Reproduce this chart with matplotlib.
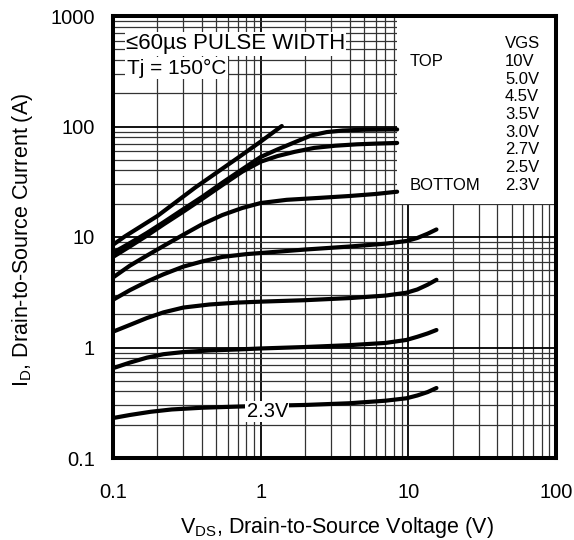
import matplotlib
matplotlib.use('Agg')
import matplotlib.pyplot as plt
from matplotlib.patches import Rectangle

plt.rcParams['font.family'] = ['Liberation Sans', 'DejaVu Sans']
plt.rcParams['mathtext.fontset'] = 'custom'
plt.rcParams['mathtext.rm'] = 'Liberation Sans'

# curves (VDS in V, ID in A)
vds_10 = [0.1, 0.12, 0.2, 0.36, 0.7, 1.0, 1.39]
id_10 = [8.5, 10.1, 15.5, 28, 52, 73, 101]

vds_50 = [0.1, 0.13, 0.17, 0.22, 0.3, 0.4, 0.55, 0.75, 1.0, 1.3, 1.7, 2.2, 2.8, 3.6, 5.0, 8.4]
id_50 = [7.2, 8.8, 10.9, 13.6, 17.9, 23.0, 31, 41, 53, 62, 72, 83, 89, 92, 93.5, 94]

vds_45 = [0.1, 0.13, 0.17, 0.22, 0.3, 0.4, 0.55, 0.75, 1.0, 1.3, 1.7, 2.3, 3.2, 4.5, 6.0, 8.4]
id_45 = [6.6, 8.2, 10.3, 13.0, 17.0, 22.0, 29.5, 39, 48, 54, 59, 64, 67, 69, 70, 71]

vds_35 = [0.1, 0.13, 0.17, 0.22, 0.3, 0.4, 0.55, 0.75, 1.0, 1.5, 2.5, 4.0, 6.0, 8.4]
id_35 = [4.3, 5.5, 6.8, 8.3, 10.5, 13.0, 15.8, 18.3, 20.3, 21.7, 22.6, 23.5, 24.5, 25.7]

vds_30 = [0.1, 0.13, 0.17, 0.22, 0.3, 0.4, 0.55, 0.8, 1.2, 2.0, 4.0, 7.0, 9.7, 11.5, 13.5, 15.5]
id_30 = [2.7, 3.3, 3.95, 4.6, 5.4, 6.0, 6.6, 7.0, 7.3, 7.7, 8.2, 8.7, 9.2, 9.8, 10.7, 11.7]

vds_27 = [0.1, 0.13, 0.17, 0.22, 0.3, 0.45, 0.7, 1.0, 2.0, 4.0, 7.0, 9.7, 11.5, 13.5, 15.5]
id_27 = [1.39, 1.6, 1.85, 2.08, 2.3, 2.45, 2.55, 2.6, 2.68, 2.8, 2.95, 3.13, 3.35, 3.7, 4.1]

vds_25 = [0.1, 0.13, 0.17, 0.22, 0.3, 0.45, 0.7, 1.0, 2.0, 4.0, 7.0, 9.7, 11.5, 13.5, 15.5]
id_25 = [0.65, 0.73, 0.81, 0.87, 0.91, 0.94, 0.96, 0.98, 1.01, 1.05, 1.1, 1.17, 1.25, 1.34, 1.44]

vds_23 = [0.1, 0.13, 0.18, 0.25, 0.4, 0.7, 1.0, 2.0, 4.0, 7.0, 9.7, 11.5, 13.5, 15.5]
id_23 = [0.23, 0.245, 0.262, 0.275, 0.285, 0.292, 0.296, 0.302, 0.313, 0.33, 0.347, 0.368, 0.395, 0.43]

vgs_labels = ['10V', '5.0V', '4.5V', '3.5V', '3.0V', '2.7V', '2.5V', '2.3V']

fig = plt.figure(figsize=(5.74, 5.40), dpi=100)
ax = fig.add_axes([113/574, 82/540, 443/574, 442/540])
ax.set_xscale('log')
ax.set_yscale('log')
ax.set_xlim(0.1, 100)
ax.set_ylim(0.1, 1000)

ax.set_axisbelow(True)
ax.grid(which='major', color='black', lw=1.3)
ax.grid(which='minor', color='0.2', lw=0.9)

# white area behind the legend text
ax.add_patch(Rectangle((0.641, 0.575), 0.359, 0.425, transform=ax.transAxes,
                       facecolor='white', edgecolor='none', zorder=1))

for v, i in [(vds_10, id_10), (vds_50, id_50), (vds_45, id_45), (vds_35, id_35),
             (vds_30, id_30), (vds_27, id_27), (vds_25, id_25), (vds_23, id_23)]:
    ax.plot(v, i, color='black', lw=3, solid_capstyle='round',
            solid_joinstyle='round', zorder=2)

for s in ax.spines.values():
    s.set_linewidth(2.9)

ax.set_xticks([0.1, 1, 10, 100])
ax.set_xticklabels(['0.1', '1', '10', '100'])
ax.set_yticks([0.1, 1, 10, 100, 1000])
ax.set_yticklabels(['0.1', '1', '10', '100', '1000'])
ax.tick_params(which='both', direction='in', length=0)
ax.tick_params(axis='x', labelsize=14.5, pad=18)
ax.tick_params(axis='y', labelsize=14.5, pad=13)

box = dict(facecolor='white', edgecolor='none', pad=1)
ax.text(0.029, 0.9247, '\u226460\u00b5s PULSE WIDTH', transform=ax.transAxes,
        fontsize=16, va='baseline', ha='left', bbox=box, zorder=3)
ax.text(0.031, 0.869, 'Tj = 150\u00b0C', transform=ax.transAxes,
        fontsize=15, va='baseline', ha='left', bbox=box, zorder=3)
ax.text(1.11, 0.235, '2.3V', fontsize=14.5, va='baseline', ha='center',
        bbox=box, zorder=3)

# legend column
ax.text(0.885, (458 - 48.3)/442, 'VGS', transform=ax.transAxes, fontsize=12,
        va='baseline')
for k, lab in enumerate(vgs_labels):
    ax.text(0.885, (458 - 66 - 17.7*k)/442, lab, transform=ax.transAxes,
            fontsize=12, va='baseline')
ax.text(0.670, (458 - 66)/442, 'TOP', transform=ax.transAxes, fontsize=12,
        va='baseline')
ax.text(0.670, (458 - 66 - 17.7*7)/442, 'BOTTOM', transform=ax.transAxes,
        fontsize=12, va='baseline')

fig.text(337/574, 1 - 527/540, 'V$_\\mathregular{DS}$, Drain-to-Source Voltage (V)',
         fontsize=15.5, ha='center', va='center')
fig.text(23/574, 1 - 240/540, 'I$_\\mathregular{D}$, Drain-to-Source Current (A)',
         fontsize=15.5, ha='center', va='center', rotation=90)

fig.savefig('out.png', dpi=100)
